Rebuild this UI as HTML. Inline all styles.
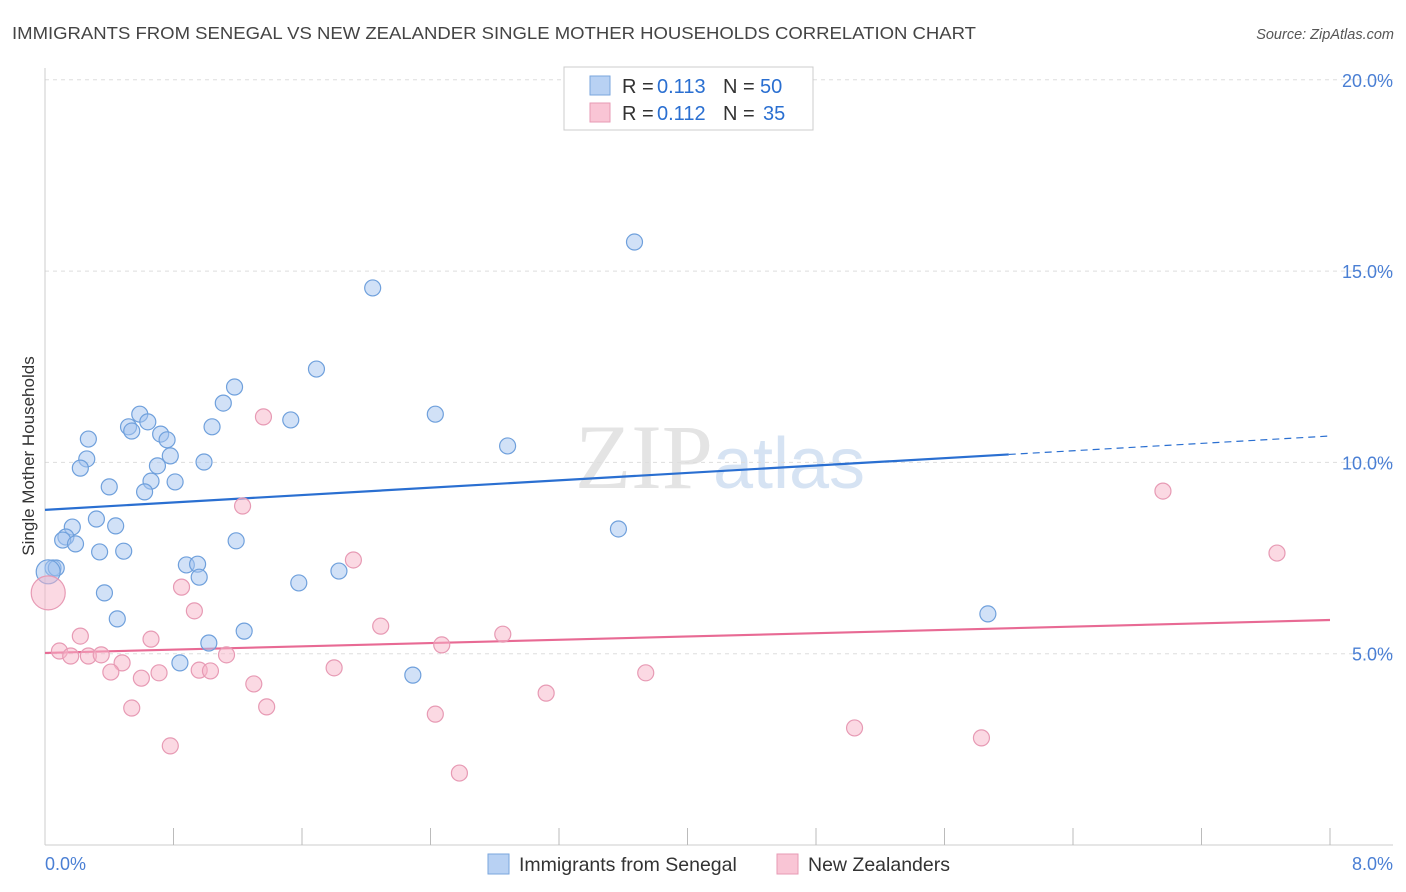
<!DOCTYPE html>
<html><head><meta charset="utf-8"><style>
body{margin:0;background:#fff;font-family:"Liberation Sans",sans-serif}
</style></head><body>
<svg id="chart" width="1406" height="892" xmlns="http://www.w3.org/2000/svg" style="display:block">
<text x="12" y="39" font-size="17.5" fill="#444" textLength="964" lengthAdjust="spacingAndGlyphs">IMMIGRANTS FROM SENEGAL VS NEW ZEALANDER SINGLE MOTHER HOUSEHOLDS CORRELATION CHART</text>
<text x="1394" y="39" font-size="14.5" fill="#555" text-anchor="end" font-style="italic">Source: ZipAtlas.com</text>
<text x="720" y="488" font-size="92" text-anchor="middle" fill="#e4e4e4" font-family="Liberation Serif">ZIP<tspan fill="#d6e3f3" font-family="Liberation Sans" font-size="72">atlas</tspan></text>
<g id="grid"></g>
<g id="axes"></g>
<g id="trends"></g>
<g id="points"></g>
<text transform="translate(34,456) rotate(-90)" font-size="17" fill="#333" text-anchor="middle">Single Mother Households</text>
<g>
<rect x="564" y="67" width="249" height="63" fill="#fff" stroke="#ccc"/>
<rect x="590" y="76" width="20" height="19" fill="#b8d1f3" stroke="#7aa6de"/>
<text y="93" font-size="20" fill="#333"><tspan x="622">R =</tspan><tspan x="657" fill="#2a6fd1">0.113</tspan><tspan x="723">N =</tspan><tspan x="760" fill="#2a6fd1">50</tspan></text>
<rect x="590" y="103" width="20" height="19" fill="#f9c5d5" stroke="#e79ab4"/>
<text y="120" font-size="20" fill="#333"><tspan x="622">R =</tspan><tspan x="657" fill="#2a6fd1">0.112</tspan><tspan x="723">N =</tspan><tspan x="763" fill="#2a6fd1">35</tspan></text>
</g>
<g>
<rect x="488" y="854" width="21" height="20" fill="#b8d1f3" stroke="#7aa6de"/>
<text x="519" y="871" font-size="19.5" fill="#333">Immigrants from Senegal</text>
<rect x="777" y="854" width="21" height="20" fill="#f9c5d5" stroke="#e79ab4"/>
<text x="808" y="871" font-size="19.5" fill="#333">New Zealanders</text>
</g>
</svg>
<script>
const yTicks=[5,10,15,20];
const yTickLabels=["5.0%","10.0%","15.0%","20.0%"];
const xTickCount=10;
const blueX=[3.67,2.04,1.69,1.18,1.11,0.59,1.53,2.43,0.52,0.54,0.64,0.72,0.76,0.27,1.04,2.88,0.26,0.22,0.78,0.70,0.99,0.66,0.81,0.40,0.62,0.32,0.17,0.44,0.13,0.11,0.19,0.34,0.49,1.19,3.57,0.88,0.95,0.96,1.58,1.83,0.05,0.07,0.37,0.45,1.24,1.02,5.87,0.84,2.29,0.02];
const blueY=[15.76,14.56,12.44,11.97,11.55,11.26,11.11,11.26,10.93,10.82,11.06,10.74,10.59,10.61,10.93,10.43,10.09,9.85,10.17,9.91,10.01,9.51,9.49,9.36,9.23,8.52,8.31,8.34,8.05,7.97,7.87,7.66,7.68,7.95,8.26,7.32,7.34,7.00,6.85,7.16,7.24,7.24,6.59,5.91,5.59,5.28,6.04,4.76,4.44,7.14];
const pinkX=[1.36,1.23,6.96,7.67,1.92,0.85,0.93,2.09,2.85,2.47,0.22,0.66,0.09,0.16,0.27,0.35,0.48,1.13,0.41,0.60,0.71,0.96,1.03,1.80,3.74,1.30,3.12,1.38,0.54,2.43,5.04,5.83,0.78,2.58,0.02];
const pinkY=[11.19,8.86,9.25,7.63,7.45,6.74,6.12,5.72,5.51,5.23,5.46,5.38,5.07,4.94,4.94,4.97,4.76,4.97,4.52,4.36,4.50,4.57,4.55,4.63,4.50,4.21,3.97,3.61,3.58,3.42,3.06,2.80,2.59,1.88,6.59];
const blueTrend=[8.76,10.69];
const pinkTrend=[5.02,5.88];
const blueSolidEnd=6.0;
const NS="http://www.w3.org/2000/svg";
const X=v=>45+v/8*1285;
const Y=v=>845-v*38.26;
function mk(tag,attrs,parent){const e=document.createElementNS(NS,tag);for(const k in attrs)e.setAttribute(k,attrs[k]);parent.appendChild(e);return e;}
const grid=document.getElementById('grid'),axes=document.getElementById('axes'),trends=document.getElementById('trends'),pts=document.getElementById('points');
yTicks.forEach((t,i)=>{
 const l=mk('line',{x1:45,x2:1393,y1:Y(t),y2:Y(t),stroke:'#ddd','stroke-dasharray':'4,4'},grid);
 
 
 const tx=mk('text',{x:1393,y:Y(t)+7,'font-size':18,fill:'#4a7fd4','text-anchor':'end'},axes);
 tx.textContent=yTickLabels[i];
 
 
});
const al=mk('line',{x1:45,x2:45,y1:68,y2:845,stroke:'#ccc'},axes);


const bl=mk('line',{x1:45,x2:1393,y1:845,y2:845,stroke:'#ccc'},axes);


for(let i=1;i<=xTickCount;i++){
 const v=i*8/xTickCount;
 const t=mk('line',{x1:X(v),x2:X(v),y1:828,y2:845,stroke:'#bbb'},axes);
 
 
}
const x0=mk('text',{x:45,y:870,'font-size':18,fill:'#4a7fd4'},axes);x0.textContent='0.0%';


const x8=mk('text',{x:1393,y:870,'font-size':18,fill:'#4a7fd4','text-anchor':'end'},axes);x8.textContent='8.0%';


function pt(x,y,r,fill,stroke,name){const c=mk('circle',{cx:X(x),cy:Y(y),r:r,fill:fill,stroke:stroke,'stroke-width':1.2},pts);
 
 }
blueX.forEach((x,i)=>pt(x,blueY[i],i===blueX.length-1?12:8,'rgba(164,196,240,0.5)','#6fa0dc','senegal-point'));
pinkX.forEach((x,i)=>pt(x,pinkY[i],i===pinkX.length-1?17:8,'rgba(248,180,200,0.5)','#e79ab4','new-zealander-point'));
const bAt=v=>blueTrend[0]+(blueTrend[1]-blueTrend[0])*v/8;
const b1=mk('line',{x1:X(0),y1:Y(bAt(0)),x2:X(blueSolidEnd),y2:Y(bAt(blueSolidEnd)),stroke:'#2a6fd1','stroke-width':2.2},trends);


const b2=mk('line',{x1:X(blueSolidEnd),y1:Y(bAt(blueSolidEnd)),x2:X(8),y2:Y(bAt(8)),stroke:'#2a6fd1','stroke-width':1.2,'stroke-dasharray':'7,5'},trends);


const p1=mk('line',{x1:X(0),y1:Y(pinkTrend[0]),x2:X(8),y2:Y(pinkTrend[1]),stroke:'#e86a94','stroke-width':2.2},trends);


</script>
</body></html>
